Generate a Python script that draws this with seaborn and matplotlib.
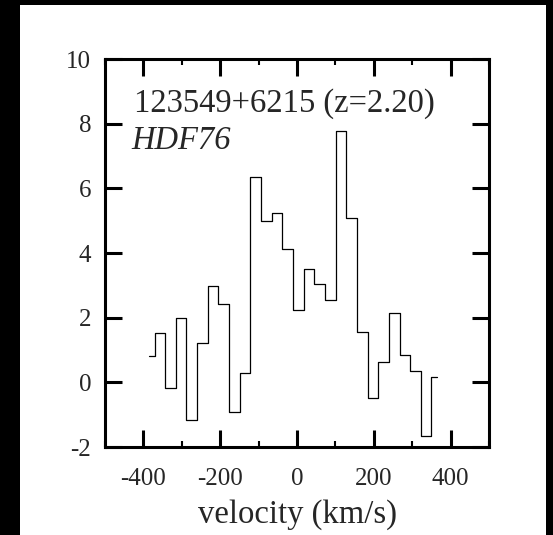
import numpy as np
import pandas as pd
import matplotlib
matplotlib.use("Agg")
import matplotlib.pyplot as plt
from matplotlib.patches import Rectangle
from matplotlib.ticker import MultipleLocator
import seaborn as sns

# channel centres (km/s) and flux density
velocity = [-385, -357, -330, -302, -274, -246, -219, -191, -163, -135,
            -108, -80, -52, -24, 3, 31, 59, 87, 114, 142,
            170, 198, 225, 253, 281, 309, 336, 364]
flux = [0.81, 1.52, -0.16, 1.98, -1.16, 1.21, 2.98, 2.41, -0.91, 0.30,
        6.34, 5.00, 5.23, 4.12, 2.24, 3.49, 3.03, 2.55, 7.76, 5.09,
        1.57, -0.49, 0.64, 2.15, 0.85, 0.36, -1.66, 0.18]

source_name = "123549+6215 (z=2.20)"
alias = "HDF76"
xticks = [-400, -200, 0, 200, 400]
yticks = [-2, 0, 2, 4, 6, 8, 10]

df = pd.DataFrame({"velocity": velocity, "flux": flux})

sns.set_style("ticks")
plt.rcParams["font.family"] = ["Liberation Serif", "DejaVu Serif"]

fig = plt.figure(figsize=(5.53, 5.35), dpi=100, facecolor="black")
# white page inside the black frame
fig.patches.append(Rectangle((20 / 553, 0), 526 / 553, 530 / 535,
                             transform=fig.transFigure, facecolor="white",
                             edgecolor="none", zorder=-5))
ax = fig.add_axes([105 / 553, 1 - 447 / 535, 384 / 553, 388 / 535])
ax.set_zorder(1)
ax.set_facecolor("white")

sns.lineplot(data=df, x="velocity", y="flux", ax=ax, color="black",
             linewidth=0.9, drawstyle="steps-mid", sort=False,
             estimator=None)

ax.set_xlim(-500, 500)
ax.set_ylim(-2, 10)
ax.set_xticks(xticks)
ax.set_xticklabels([str(t) for t in xticks])
ax.set_yticks(yticks)
ax.set_yticklabels([str(t) for t in yticks])
ax.xaxis.set_minor_locator(MultipleLocator(100))

ax.tick_params(which="major", direction="in", top=True, right=True,
               length=12, width=2.2, labelsize=18, color="black")
ax.tick_params(axis="x", which="major", pad=15)
ax.tick_params(axis="y", which="major", pad=10)
ax.tick_params(which="minor", axis="x", direction="in", top=True,
               length=4.5, width=1.5, color="black")
for s in ax.spines.values():
    s.set_linewidth(2.2)
    s.set_color("black")

ax.set_xlabel("velocity (km/s)", fontsize=23.5, labelpad=7)
ax.set_ylabel("")

ax.text(0.075, 0.924, source_name, transform=ax.transAxes, fontsize=23.5,
        va="top", ha="left")
ax.text(0.068, 0.829, alias, transform=ax.transAxes, fontsize=23.5,
        va="top", ha="left", style="italic")

fig.savefig("out.png", dpi=100, facecolor=fig.get_facecolor())
